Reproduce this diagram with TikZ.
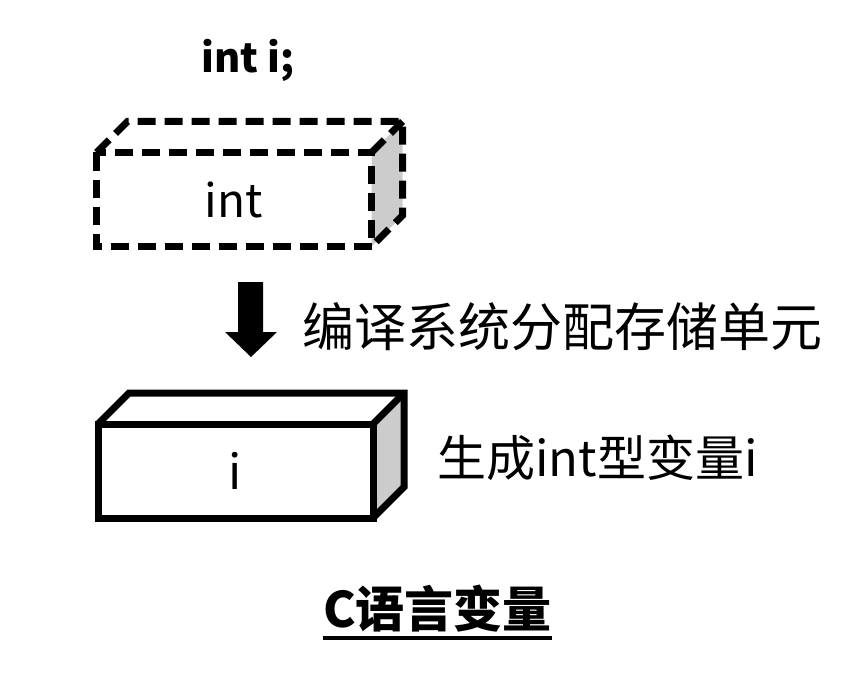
\documentclass[tikz,border=0pt]{standalone}
\usepackage{fontspec}
\setmainfont{Noto Sans CJK SC}

\tikzset{
  face/.style={minimum width=275pt, minimum height=94pt, inner sep=0pt, outer sep=0pt},
  label/.style={inner sep=0pt},
  edge/.style={line width=7pt},
  dashedge/.style={line width=7pt, dash pattern=on 18pt off 9pt},
  side/.style={fill=black!20},
}

\begin{document}
\begin{tikzpicture}[x=1pt,y=-1pt]
\useasboundingbox (0,0) rectangle (866,679);
% declaration
\node[label, anchor=base, font=\fontsize{40}{48}\selectfont\bfseries] (decl) at (248,73) {int i;};
% type box (dashed)
\node[face, font=\fontsize{46}{55}\selectfont] (F1) at (234,199.5) {int};
\fill[side] (F1.north east) -- ++(31,-31) -- ([shift={(31,-31)}]F1.south east) -- (F1.south east) -- cycle;
\draw[dashedge] (F1.north west) rectangle (F1.south east);
\draw[dashedge] (F1.north west) -- ++(31,-31) -| ([shift={(31,-31)}]F1.south east) -- (F1.south east);
\draw[dashedge] (F1.north east) -- ++(31,-31);
% arrow
\fill (238,282) -- (263,282) -- (263,332) -- (277,332) -- (251,357) -- (225,332) -- (238,332) -- cycle;
\node[label, anchor=base west, font=\fontsize{52}{62}\selectfont] (step) at (302,346) {编译系统分配存储单元};
% variable box
\node[face, font=\fontsize{48}{58}\selectfont] (F2) at (235.5,471) {i};
\fill[side] (F2.north east) -- ++(31,-31) -- ([shift={(31,-31)}]F2.south east) -- (F2.south east) -- cycle;
\draw[edge] (F2.north west) rectangle (F2.south east);
\draw[edge] (F2.north west) -- ++(31,-31) -| ([shift={(31,-31)}]F2.south east) -- (F2.south east);
\draw[edge] (F2.north east) -- ++(31,-31);
\node[label, anchor=base west, font=\fontsize{49}{59}\selectfont] (result) at (437,476) {生成int型变量i};
% caption
\node[label, anchor=base, font=\fontsize{49}{59}\selectfont\bfseries] (title) at (437.5,627) {C语言变量};
\draw[line width=4pt] ([yshift=-11pt]title.base west) -- ([yshift=-11pt]title.base east);
\end{tikzpicture}
\end{document}
